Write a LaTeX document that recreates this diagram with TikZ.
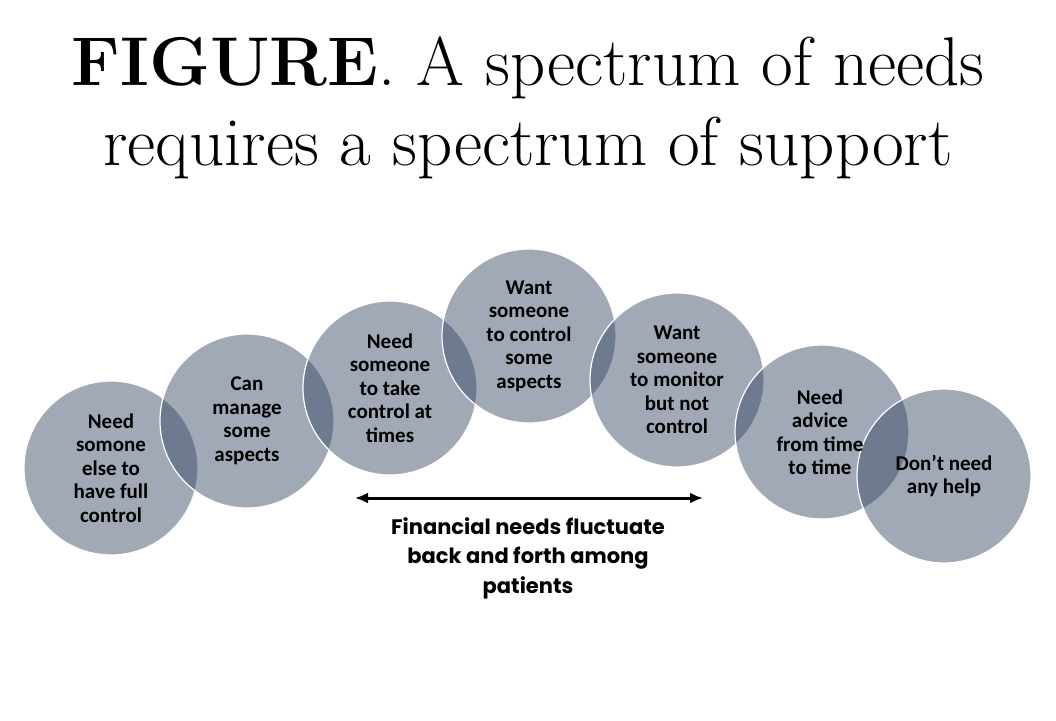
\documentclass[tikz,border=0pt]{standalone}
\usepackage{fontspec}
\newfontfamily\circfont{Carlito}
\newfontfamily\notefont{Poppins}
\usetikzlibrary{arrows.meta, calc, positioning}
\definecolor{slate}{RGB}{46,64,95}
\tikzset{need/.style={circle,draw=white,line width=1.2pt,fill=slate,fill opacity=.45,minimum size=174pt,inner sep=0pt}}
\tikzset{needtxt/.style={align=center,inner sep=0pt,font=\circfont\bfseries\fontsize{21}{23.5}\selectfont}}
\tikzset{ttl/.style={anchor=base,inner sep=0pt,font=\fontsize{69}{75}\selectfont}}

\begin{document}
\begin{tikzpicture}[x=1pt,y=-1pt]
\useasboundingbox (0,0) rectangle (1056,720);
\node [ttl] at (528,85) (title1) {\textbf{FIGURE}. A spectrum of needs};
\node [ttl] at (528,165) (title2) {requires a spectrum of support};

% the circles, left to right
\node [need] at (111,468) (c1) {};
\node [need] at (247,421) (c2) {};
\node [need] at (390,388) (c3) {};
\node [need] at (529,336) (c4) {};
\node [need] at (677,380) (c5) {};
\node [need] at (822,432) (c6) {};
\node [need] at (944,476) (c7) {};

% texts on top
\node [needtxt] at (c1) (t1) {Need\\somone\\else to\\have full\\control};
\node [needtxt] at (c2) (t2) {Can\\manage\\some\\aspects};
\node [needtxt] at (c3) (t3) {Need\\someone\\to take\\control at\\times};
\node [needtxt] at (c4) (t4) {Want\\someone\\to control\\some\\aspects};
\node [needtxt] at (c5) (t5) {Want\\someone\\to monitor\\but not\\control};
\node [needtxt] at ($(c6)+(-2,0)$) (t6) {Need\\advice\\from time\\to time};
\node [needtxt] at (c7) (t7) {Don’t need\\any help};

\coordinate (left) at (355,498);
\coordinate (right) at (703,498);
\draw [line width=3pt,{Latex[length=13pt,width=11pt]}-{Latex[length=13pt,width=11pt]}] (left) -- (right);
\node [align=center,inner sep=0pt,font=\notefont\bfseries\fontsize{21}{29.5}\selectfont] at (528,558) (fluct) {Financial needs fluctuate\\back and forth among\\patients};
\end{tikzpicture}
\end{document}
